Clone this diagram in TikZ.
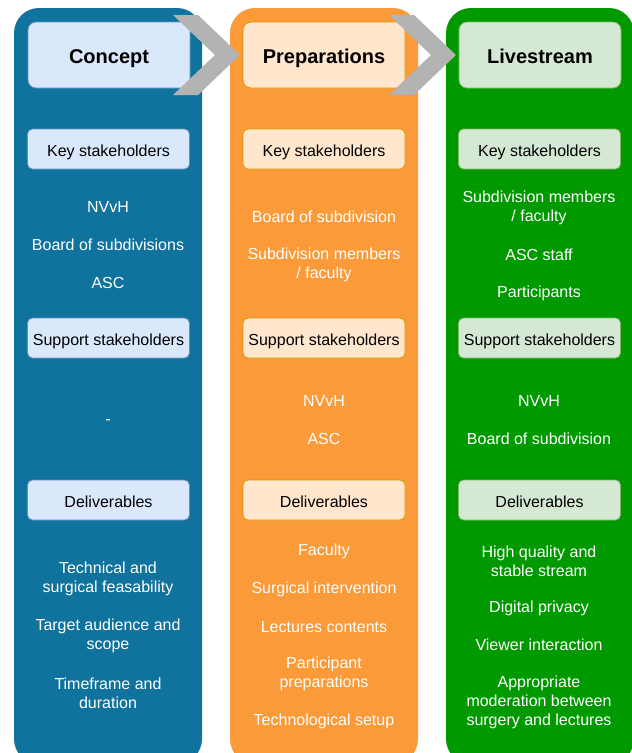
\documentclass[tikz,border=0pt]{standalone}
\usepackage{fontspec}
\setmainfont{Liberation Sans}
\definecolor{colblue}{HTML}{10739E}
\definecolor{colorange}{HTML}{FA9A38}
\definecolor{colgreen}{HTML}{009900}
\definecolor{bfill}{HTML}{DAE8FC}
\definecolor{bdraw}{HTML}{6C8EBF}
\definecolor{ofill}{HTML}{FFE6CC}
\definecolor{odraw}{HTML}{D79B00}
\definecolor{gfill}{HTML}{D5E8D4}
\definecolor{gdraw}{HTML}{82B366}
\definecolor{chev}{HTML}{B3B3B3}
\begin{document}
\begin{tikzpicture}[x=1pt,y=-1pt,
  titlebox/.style={rounded corners=8pt, line width=0.8pt, minimum width=162pt, minimum height=66pt, text height=20pt, text depth=4pt, font=\fontsize{20}{24}\selectfont\bfseries, text=black},
  subbox/.style={rounded corners=5pt, line width=0.8pt, minimum width=162pt, minimum height=40pt, text height=18.5pt, text depth=3pt, font=\fontsize{16}{19}\selectfont, text=black},
  item/.style={align=center, text=white, font=\fontsize{16}{19}\selectfont, inner sep=0pt},
  bluebox/.style={fill=bfill, draw=bdraw},
  orangebox/.style={fill=ofill, draw=odraw},
  greenbox/.style={fill=gfill, draw=gdraw}]
\useasboundingbox (0,0) rectangle (632,753);
\clip (0,0) rectangle (632,753);
% columns
\fill[colblue, rounded corners=25pt] (14,8) rectangle (202,764);
\fill[colorange, rounded corners=25pt] (230,8) rectangle (418,764);
\fill[colgreen, rounded corners=25pt] (446,8) rectangle (634,764);
% titles
\node[titlebox, bluebox] (t1) at (109,55) {Concept};
\node[titlebox, orangebox] (t2) at (324,55) {Preparations};
\node[titlebox, greenbox] (t3) at (540,55) {Livestream};
% chevrons
\fill[chev] (173,15) -- (198,15) -- (240,55) -- (198,95) -- (173,95) -- (215,55) -- cycle;
\fill[chev] (389,15) -- (414,15) -- (456,55) -- (414,95) -- (389,95) -- (431,55) -- cycle;
% sub boxes
\node[subbox, bluebox] (k1) at (108.5,149) {Key stakeholders};
\node[subbox, bluebox] (s1) at (108.5,338) {Support stakeholders};
\node[subbox, bluebox] (d1) at (108.5,500) {Deliverables};
\node[subbox, orangebox] (k2) at (324,149) {Key stakeholders};
\node[subbox, orangebox] (s2) at (324,338) {Support stakeholders};
\node[subbox, orangebox] (d2) at (324,500) {Deliverables};
\node[subbox, greenbox] (k3) at (539.5,149) {Key stakeholders};
\node[subbox, greenbox] (s3) at (539.5,338) {Support stakeholders};
\node[subbox, greenbox] (d3) at (539.5,500) {Deliverables};
% concept items
\node[item] (c1) at (108,207) {NVvH};
\node[item] (c2) at (108,245) {Board of subdivisions};
\node[item] (c3) at (108,283) {ASC};
\node[item] (c4) at (108,422) {-};
\node[item] (c5) at (108,579) {Technical and\\surgical feasability};
\node[item] (c6) at (108,636) {Target audience and\\scope};
\node[item] (c7) at (108,693) {Timeframe and\\duration};
% preparation items
\node[item] (p1) at (324,217) {Board of subdivision};
\node[item] (p2) at (324,265) {Subdivision members\\/ faculty};
\node[item] (p3) at (324,401) {NVvH};
\node[item] (p4) at (324,439) {ASC};
\node[item] (p5) at (324,551) {Faculty};
\node[item] (p6) at (324,589) {Surgical intervention};
\node[item] (p7) at (324,627) {Lectures contents};
\node[item] (p8) at (324,674) {Participant\\preparations};
\node[item] (p9) at (324,721) {Technological setup};
% livestream items
\node[item] (l1) at (539,208) {Subdivision members\\/ faculty};
\node[item] (l2) at (539,255) {ASC staff};
\node[item] (l3) at (539,293) {Participants};
\node[item] (l4) at (539,401) {NVvH};
\node[item] (l5) at (539,439) {Board of subdivision};
\node[item] (l6) at (539,561) {High quality and\\stable stream};
\node[item] (l7) at (539,608) {Digital privacy};
\node[item] (l8) at (539,645) {Viewer interaction};
\node[item] (l9) at (539,702) {Appropriate\\moderation between\\surgery and lectures};
\end{tikzpicture}
\end{document}
